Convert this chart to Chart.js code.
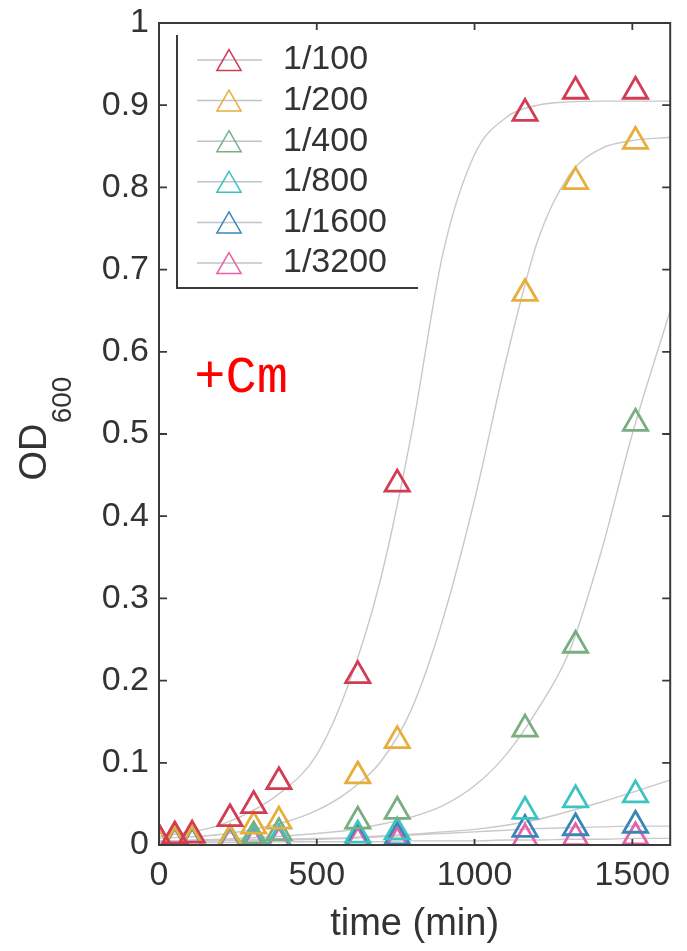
<!DOCTYPE html>
<html>
<head>
<meta charset="utf-8">
<script src="https://cdn.jsdelivr.net/npm/chart.js@4/dist/chart.umd.min.js"></script>
<style>
	html, body { margin: 0; background: #fff; }
	#wrap { width: 687px; height: 951px; position: relative; }
</style>
</head>
<body>
<div id="wrap"><canvas id="canvas"></canvas></div>
<script>
// sampling times (min) and measured OD600 per dilution
const sampleTimes = [0, 50, 105, 225, 300, 380, 630, 755, 1160, 1320, 1510];
const dilutions = ["1/100", "1/200", "1/400", "1/800", "1/1600", "1/3200"];
const markerColors = ["#d23c55", "#e8ae3c", "#78ae80", "#3ec4c0", "#3a86b8", "#e862a8"];

const od100 = [0.008, 0.011, 0.012, 0.032, 0.048, 0.077, 0.206, 0.439, 0.890, 0.917, 0.917];
const od200 = [0.004, 0.005, 0.006, 0.007, 0.023, 0.029, 0.084, 0.127, 0.671, 0.807, 0.856];
const od400 = [0.004, 0.004, 0.005, 0.007, 0.011, 0.015, 0.029, 0.041, 0.141, 0.243, 0.513];
const od800 = [0.004, 0.004, 0.004, 0.005, 0.006, 0.007, 0.012, 0.016, 0.041, 0.055, 0.061];
const od1600 = [0.004, 0.004, 0.004, 0.005, 0.006, 0.007, 0.008, 0.010, 0.019, 0.021, 0.024];
const od3200 = [0.003, 0.003, 0.003, 0.003, 0.003, 0.004, 0.004, 0.004, 0.008, 0.009, 0.010];

// fitted growth curves, read at these times
const fitTimes = [0, 200, 400, 500, 600, 700, 800, 900, 1000, 1100, 1200, 1300, 1400, 1500, 1620];
const fit100 = [0.010, 0.025, 0.068, 0.110, 0.195, 0.320, 0.500, 0.720, 0.840, 0.885, 0.900, 0.904, 0.905, 0.905, 0.905];
const fit200 = [0.008, 0.013, 0.028, 0.042, 0.065, 0.100, 0.165, 0.275, 0.420, 0.590, 0.735, 0.815, 0.847, 0.857, 0.861];
const fit400 = [0.005, 0.007, 0.011, 0.014, 0.018, 0.025, 0.034, 0.048, 0.072, 0.110, 0.165, 0.235, 0.355, 0.500, 0.650];
const fit800 = [0.005, 0.006, 0.007, 0.008, 0.009, 0.011, 0.013, 0.016, 0.019, 0.024, 0.031, 0.041, 0.052, 0.064, 0.079];
const fit1600 = [0.004, 0.005, 0.006, 0.007, 0.008, 0.010, 0.012, 0.014, 0.016, 0.018, 0.020, 0.021, 0.022, 0.023, 0.023];
const fit3200 = [0.003, 0.003, 0.004, 0.004, 0.004, 0.004, 0.005, 0.005, 0.005, 0.006, 0.006, 0.007, 0.007, 0.008, 0.008];

const xTicks = [0, 500, 1000, 1500];
const xTickLabels = ["0", "500", "1000", "1500"];
const yTicks = [0, 0.1, 0.2, 0.3, 0.4, 0.5, 0.6, 0.7, 0.8, 0.9, 1];
const yTickLabels = ["0", "0.1", "0.2", "0.3", "0.4", "0.5", "0.6", "0.7", "0.8", "0.9", "1"];

const measured = [od100, od200, od400, od800, od1600, od3200];
const fitted = [fit100, fit200, fit400, fit800, fit1600, fit3200];

const FONT = "'Liberation Sans', Arial, Helvetica, sans-serif";
const INK = "#333";
Chart.defaults.font.family = FONT;
Chart.defaults.color = INK;

function pairs(xs, ys) {
	return xs.map((x, i) => ({ x: x, y: ys[i] }));
}

const fitSets = fitted.map((vals, i) => ({
	label: "fit " + dilutions[i],
	data: pairs(fitTimes, vals),
	type: "line",
	showLine: true,
	borderColor: "#c9c9c9",
	borderWidth: 1.4,
	pointRadius: 0,
	cubicInterpolationMode: "monotone",
	fill: false,
	order: 2,
}));

const pointSets = measured.map((vals, i) => ({
	label: dilutions[i],
	data: pairs(sampleTimes, vals),
	showLine: false,
	pointStyle: "triangle",
	pointRadius: 14,
	pointBorderWidth: 2.8,
	pointBorderColor: markerColors[i],
	pointBackgroundColor: "rgba(0,0,0,0)",
	order: 1,
}));

// box round the plot with inward tick marks
const framePlugin = {
	id: "frame",
	afterDraw(chart) {
		const { ctx, chartArea: a, scales } = chart;
		ctx.save();
		ctx.strokeStyle = "#3a3a3a";
		ctx.lineWidth = 2;
		ctx.strokeRect(a.left, a.top, a.right - a.left, a.bottom - a.top);
		ctx.lineWidth = 1.8;
		ctx.beginPath();
		scales.x.ticks.forEach((t) => {
			const px = scales.x.getPixelForValue(t.value);
			ctx.moveTo(px, a.bottom); ctx.lineTo(px, a.bottom - 6);
			ctx.moveTo(px, a.top); ctx.lineTo(px, a.top + 7);
		});
		scales.y.ticks.forEach((t) => {
			const py = scales.y.getPixelForValue(t.value);
			ctx.moveTo(a.left, py); ctx.lineTo(a.left + 8, py);
			ctx.moveTo(a.right, py); ctx.lineTo(a.right - 8, py);
		});
		ctx.stroke();
		ctx.restore();
	},
};

// legend in the upper left corner, open at top and right
const legendPlugin = {
	id: "cornerLegend",
	afterDraw(chart) {
		const { ctx } = chart;
		const left = 177, top = 35, bottom = 288, right = 418;
		ctx.save();
		ctx.fillStyle = "#fff";
		ctx.fillRect(left, top, right - left, bottom - top);
		ctx.strokeStyle = "#3a3a3a";
		ctx.lineWidth = 2;
		ctx.beginPath();
		ctx.moveTo(left, top); ctx.lineTo(left, bottom); ctx.lineTo(right, bottom);
		ctx.stroke();
		ctx.font = "34px " + FONT;
		ctx.textBaseline = "middle";
		ctx.textAlign = "left";
		dilutions.forEach((name, i) => {
			const cy = 60 + i * 40.6;
			ctx.strokeStyle = "#bcc4cc";
			ctx.lineWidth = 1.5;
			ctx.beginPath();
			ctx.moveTo(197, cy); ctx.lineTo(262, cy);
			ctx.stroke();
			ctx.strokeStyle = markerColors[i];
			ctx.fillStyle = "rgba(0,0,0,0)";
			Chart.helpers.drawPoint(ctx, { pointStyle: "triangle", radius: 14, borderWidth: 2.8, rotation: 0 }, 229, cy + 3.5);
			ctx.fillStyle = INK;
			ctx.fillText(name, 283, cy);
		});
		ctx.restore();
	},
};

// rotated OD600 axis title and the +Cm note
const textPlugin = {
	id: "notes",
	afterDraw(chart) {
		const { ctx, scales } = chart;
		ctx.save();
		ctx.fillStyle = INK;
		ctx.textAlign = "center";
		ctx.textBaseline = "middle";
		ctx.translate(36, 452);
		ctx.rotate(-Math.PI / 2);
		ctx.font = "38px " + FONT;
		ctx.fillText("OD", 0, 0);
		ctx.restore();
		ctx.save();
		ctx.fillStyle = INK;
		ctx.textAlign = "center";
		ctx.textBaseline = "middle";
		ctx.translate(63, 400);
		ctx.rotate(-Math.PI / 2);
		ctx.font = "28px " + FONT;
		ctx.fillText("600", 0, 0);
		ctx.restore();

		ctx.save();
		ctx.fillStyle = "#ff0000";
		ctx.font = "52px 'Liberation Mono', 'Courier New', monospace";
		ctx.textAlign = "left";
		ctx.textBaseline = "middle";
		ctx.fillText("+Cm", scales.x.getPixelForValue(112), scales.y.getPixelForValue(0.568));
		ctx.restore();
	},
};

const chart = new Chart(document.getElementById("canvas").getContext("2d"), {
	type: "scatter",
	data: { datasets: [...fitSets, ...pointSets] },
	options: {
		responsive: true,
		maintainAspectRatio: false,
		animation: false,
		events: [],
		layout: { padding: { top: 23, right: 10, left: 0, bottom: 0 } },
		plugins: { legend: { display: false }, tooltip: { enabled: false } },
		scales: {
			x: {
				type: "linear",
				min: 0,
				max: 1620,
				afterBuildTicks: (s) => { s.ticks = xTicks.map((v) => ({ value: v })); },
				afterFit: (s) => {
					s.height = 106;
					s.paddingLeft = 0;
					s.paddingRight = 0;
				},
				ticks: {
					autoSkip: false,
					padding: 10,
					maxRotation: 0,
					font: { size: 34 },
					color: INK,
					callback: (v, i) => xTickLabels[i],
				},
				grid: { display: false, drawTicks: false },
				border: { display: false },
				title: { display: true, text: "time (min)", font: { size: 38 }, color: INK, padding: { top: 0, bottom: 4 } },
			},
			y: {
				min: 0,
				max: 1,
				afterBuildTicks: (s) => { s.ticks = yTicks.map((v) => ({ value: v })); },
				afterFit: (s) => {
					s.width = 159;
					s.paddingTop = 0;
					s.paddingBottom = 0;
				},
				ticks: {
					autoSkip: false,
					padding: 10,
					font: { size: 34 },
					color: INK,
					callback: (v, i) => yTickLabels[i],
				},
				grid: { display: false, drawTicks: false },
				border: { display: false },
			},
		},
	},
	plugins: [framePlugin, legendPlugin, textPlugin],
});
</script>
</body>
</html>
